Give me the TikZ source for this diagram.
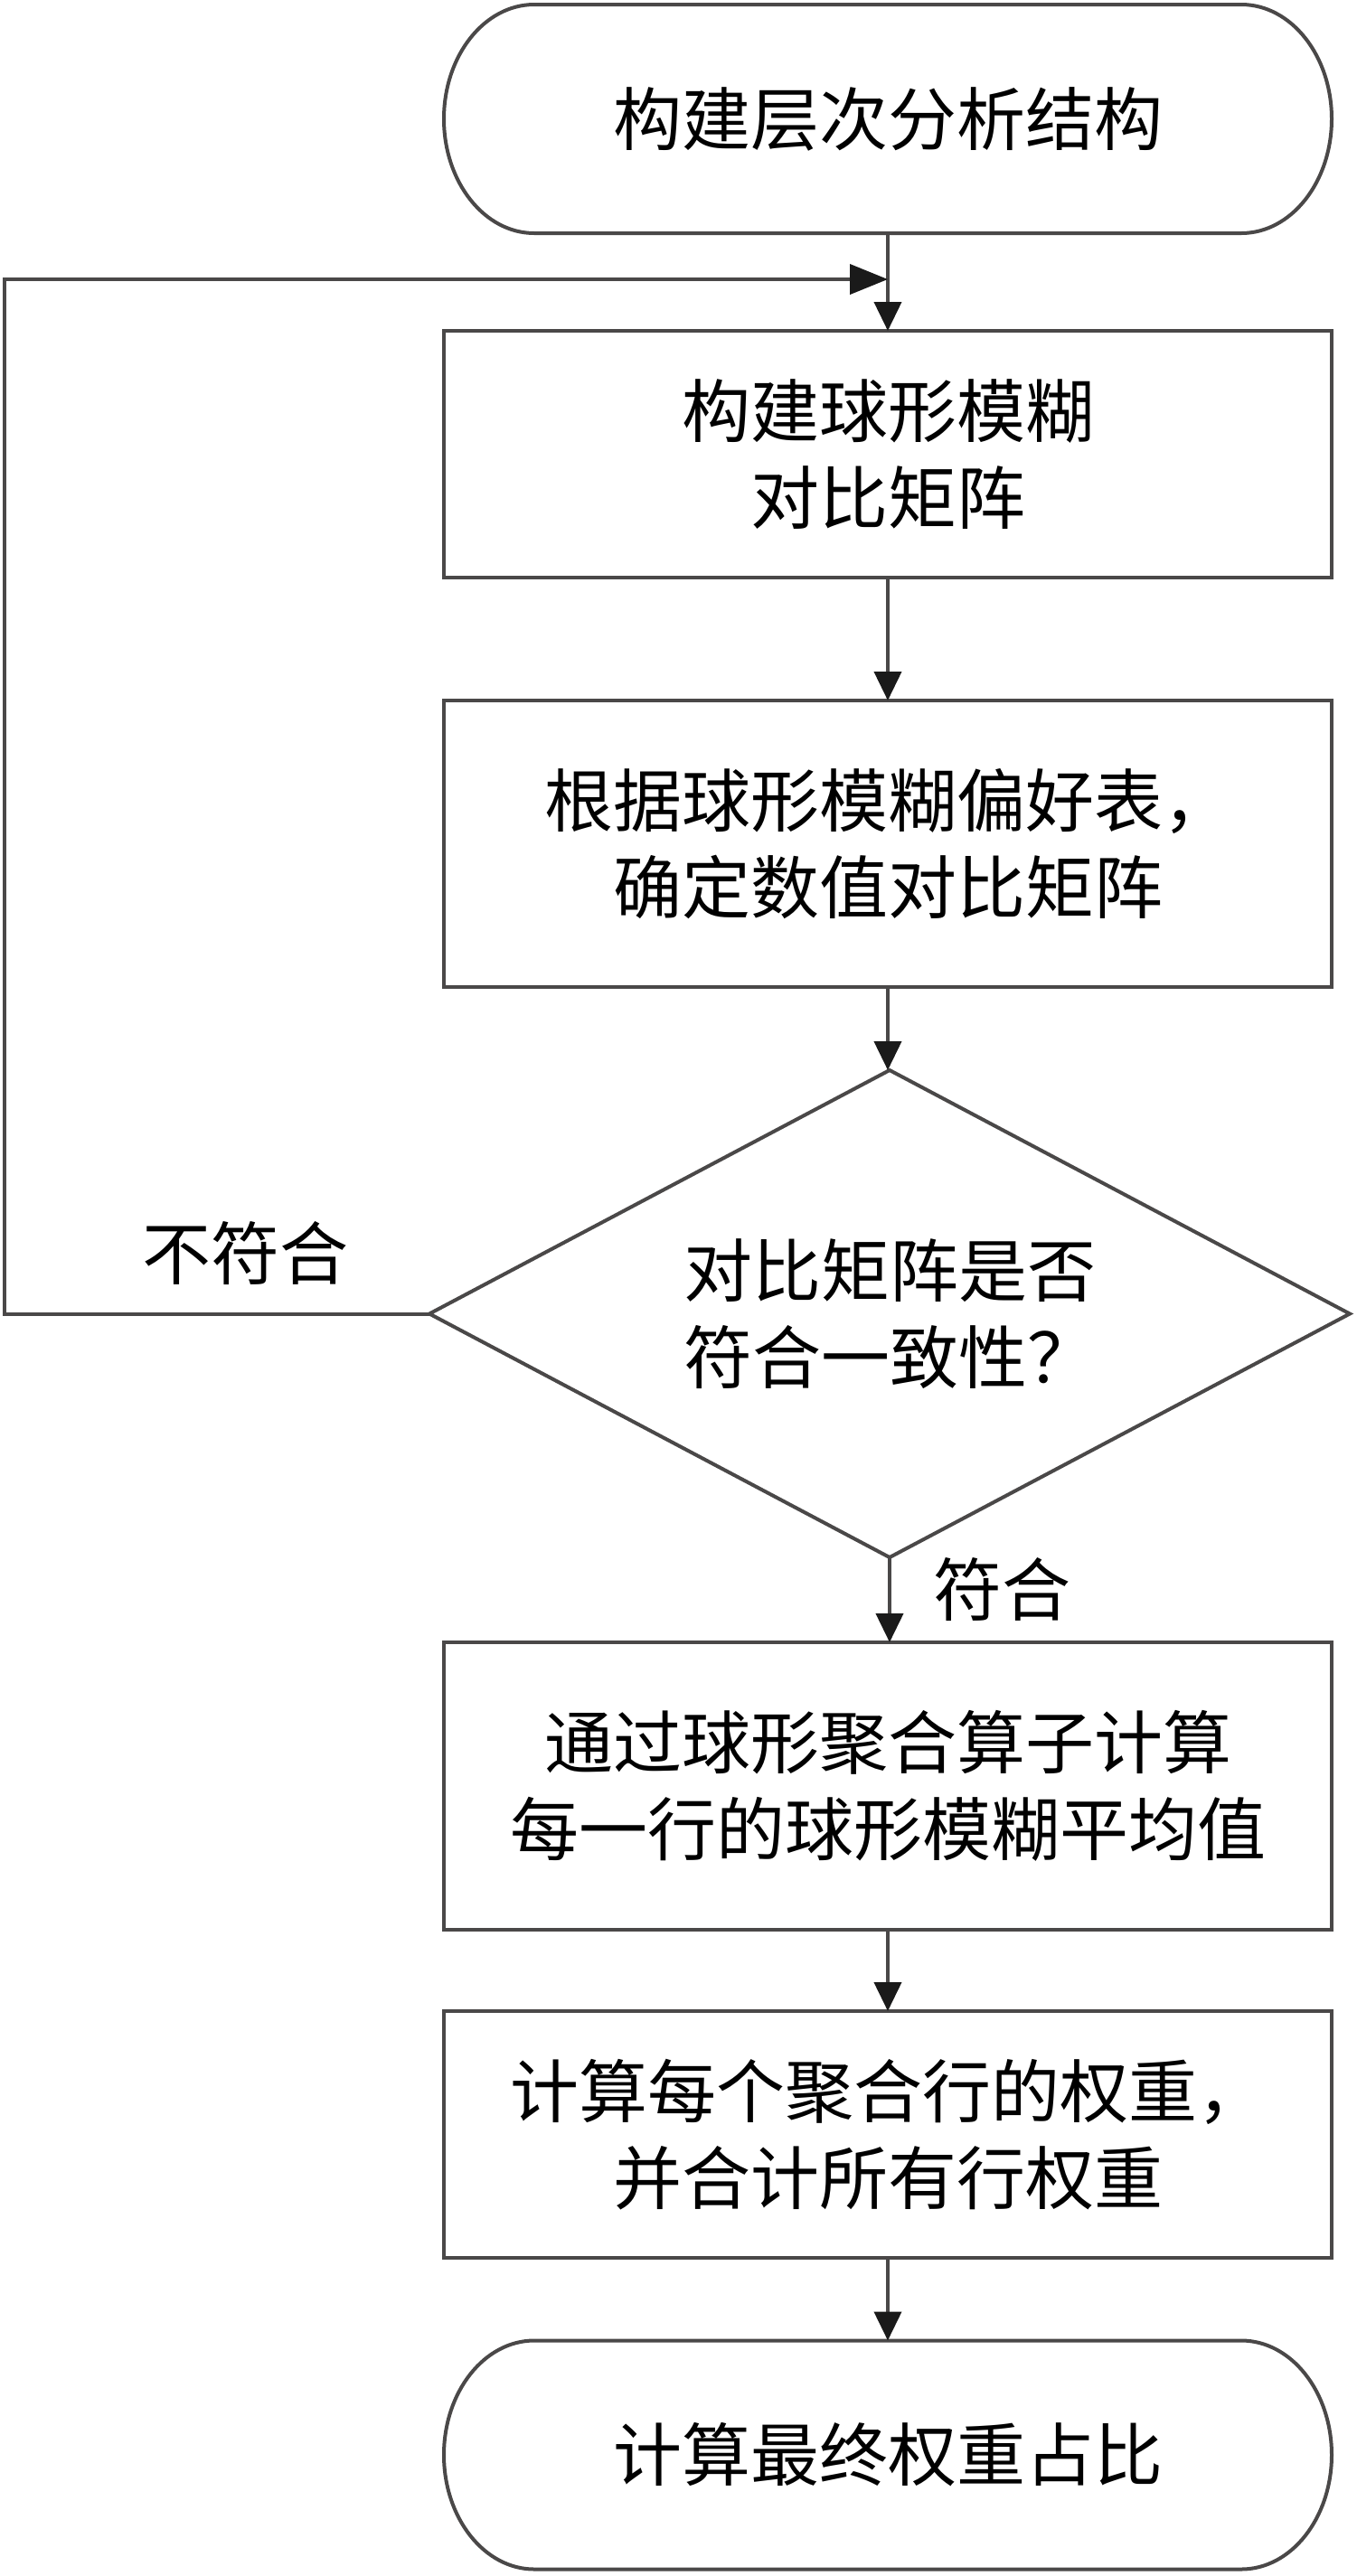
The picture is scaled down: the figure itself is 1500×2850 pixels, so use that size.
\documentclass[tikz,border=0pt]{standalone}
\usepackage{fontspec}
\newfontfamily\cjk{Noto Sans CJK SC}
\usetikzlibrary{shapes.geometric,arrows.meta}
\definecolor{ln}{HTML}{4A4848}
\definecolor{tip}{HTML}{1A1A1A}
\tikzset{
  line/.style={draw=ln,line width=2pt},
  txt/.style={font=\cjk\fontsize{38}{48}\selectfont,text=black,align=center},
  term/.style={txt,rectangle,draw=none,minimum width=491pt,minimum height=126.5pt,inner sep=0pt,outer sep=0pt},
  procbox/.style={txt,rectangle,line,minimum width=491pt,inner sep=0pt,outer sep=0pt},
  decision/.style={txt,diamond,line,aspect=1.889,minimum width=509pt,minimum height=269.5pt,inner sep=0pt,outer sep=0pt},
  lbl/.style={txt,inner sep=0pt},
  arr/.style={line,-{Triangle[width=15pt,length=16pt,color=tip]}},
  fbarr/.style={line,-{Triangle[width=16.5pt,length=21pt,color=tip]}}
}
\begin{document}
\begin{tikzpicture}[x=0.5pt,y=-0.5pt]
\useasboundingbox[fill=white] (0,0) rectangle (1500,2850);

% top terminal
\node[term] (t1) at (982,131.5) {构建层次分析结构};
\draw[line] ([xshift=50pt]t1.north west) -- ([xshift=-50pt]t1.north east)
  arc[start angle=90,end angle=-90,x radius=50pt,y radius=63.25pt]
  -- ([xshift=50pt]t1.south west)
  arc[start angle=270,end angle=90,x radius=50pt,y radius=63.25pt] -- cycle;

\node[procbox,minimum height=136.5pt] (b1) at (982,502.5) {构建球形模糊\\对比矩阵};
\node[procbox,minimum height=158.5pt] (b2) at (982,933.5) {根据球形模糊偏好表，\\确定数值对比矩阵};
\node[decision] (d) at (984,1453.5) {对比矩阵是否\\符合一致性？};
\node[procbox,minimum height=159pt] (b3) at (982,1976) {通过球形聚合算子计算\\每一行的球形模糊平均值};
\node[procbox,minimum height=136.5pt] (b4) at (982,2361.5) {计算每个聚合行的权重，\\并合计所有行权重};

% bottom terminal
\node[term] (t2) at (982,2716) {计算最终权重占比};
\draw[line] ([xshift=50pt]t2.north west) -- ([xshift=-50pt]t2.north east)
  arc[start angle=90,end angle=-90,x radius=50pt,y radius=63.25pt]
  -- ([xshift=50pt]t2.south west)
  arc[start angle=270,end angle=90,x radius=50pt,y radius=63.25pt] -- cycle;

% labels
\node[lbl] (no) at (271,1386) {不符合};
\node[lbl] (yes) at (1108,1758) {符合};

% connectors
\draw[arr] (t1.south) -- (b1.north);
\draw[arr] (b1.south) -- (b2.north);
\draw[arr] (b2.south) -- (b2.south |- d.north);
\draw[arr] (d.south) -- (d.south |- b3.north);
\draw[arr] (b3.south) -- (b4.north);
\draw[arr] (b4.south) -- (t2.north);

\coordinate (L1) at (5,1453.5);
\coordinate (L2) at (5,309);
\coordinate (J) at (982,309);
\draw[fbarr] (d.west) -- (L1) -- (L2) -- (J);
\end{tikzpicture}
\end{document}
